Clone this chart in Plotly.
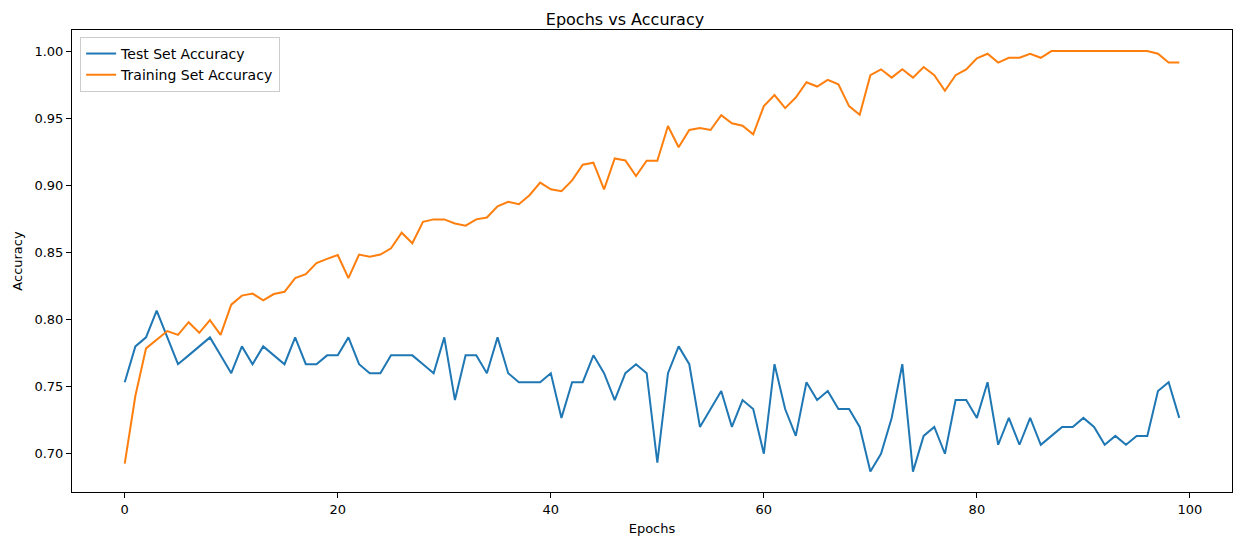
import plotly.graph_objects as go

# accuracy per epoch
epochs = list(range(100))

test_acc = [
    0.7533, 0.7800, 0.7867, 0.8067, 0.7867, 0.7667, 0.7733, 0.7800, 0.7867, 0.7733,
    0.7600, 0.7800, 0.7667, 0.7800, 0.7733, 0.7667, 0.7867, 0.7667, 0.7667, 0.7733,
    0.7733, 0.7867, 0.7667, 0.7600, 0.7600, 0.7733, 0.7733, 0.7733, 0.7667, 0.7600,
    0.7867, 0.7400, 0.7733, 0.7733, 0.7600, 0.7867, 0.7600, 0.7533, 0.7533, 0.7533,
    0.7600, 0.7267, 0.7533, 0.7533, 0.7733, 0.7600, 0.7400, 0.7600, 0.7667, 0.7600,
    0.6933, 0.7600, 0.7800, 0.7667, 0.7200, 0.7333, 0.7467, 0.7200, 0.7400, 0.7333,
    0.7000, 0.7667, 0.7333, 0.7133, 0.7533, 0.7400, 0.7467, 0.7333, 0.7333, 0.7200,
    0.6867, 0.7000, 0.7267, 0.7667, 0.6867, 0.7133, 0.7200, 0.7000, 0.7400, 0.7400,
    0.7267, 0.7533, 0.7067, 0.7267, 0.7067, 0.7267, 0.7067, 0.7133, 0.7200, 0.7200,
    0.7267, 0.7200, 0.7067, 0.7133, 0.7067, 0.7133, 0.7133, 0.7467, 0.7533, 0.7267,
]

train_acc = [
    0.6926, 0.7432, 0.7785, 0.7852, 0.7914, 0.7886, 0.7980, 0.7901, 0.7995, 0.7886,
    0.8111, 0.8178, 0.8193, 0.8143, 0.8190, 0.8207, 0.8309, 0.8338, 0.8420, 0.8452,
    0.8481, 0.8309, 0.8484, 0.8467, 0.8484, 0.8531, 0.8647, 0.8568, 0.8728, 0.8746,
    0.8746, 0.8716, 0.8699, 0.8746, 0.8760, 0.8844, 0.8877, 0.8859, 0.8926, 0.9020,
    0.8970, 0.8956, 0.9037, 0.9153, 0.9168, 0.8970, 0.9200, 0.9185, 0.9069, 0.9183,
    0.9183, 0.9442, 0.9284, 0.9412, 0.9427, 0.9412, 0.9523, 0.9462, 0.9444, 0.9380,
    0.9590, 0.9672, 0.9575, 0.9654, 0.9768, 0.9736, 0.9785, 0.9753, 0.9590, 0.9526,
    0.9820, 0.9864, 0.9802, 0.9864, 0.9802, 0.9881, 0.9820, 0.9704, 0.9820, 0.9864,
    0.9946, 0.9980, 0.9914, 0.9950, 0.9950, 0.9980, 0.9950, 1.0000, 1.0000, 1.0000,
    1.0000, 1.0000, 1.0000, 1.0000, 1.0000, 1.0000, 1.0000, 0.9980, 0.9914, 0.9914,
]

y_ticks = [0.70, 0.75, 0.80, 0.85, 0.90, 0.95, 1.00]
x_ticks = [0, 20, 40, 60, 80, 100]

fig = go.Figure()
fig.add_trace(go.Scatter(x=epochs, y=test_acc, mode='lines', name='Test Set Accuracy',
                         line=dict(color='#1f77b4', width=2)))
fig.add_trace(go.Scatter(x=epochs, y=train_acc, mode='lines', name='Training Set Accuracy',
                         line=dict(color='#ff7f0e', width=2)))

axis_style = dict(showline=True, mirror=True, linecolor='black', linewidth=1,
                  showgrid=False, zeroline=False, ticks='outside', ticklen=5,
                  tickcolor='black', tickfont=dict(size=13, color='black'))

fig.update_xaxes(range=[-4.95, 103.95], tickvals=x_ticks,
                 title=dict(text='Epochs', font=dict(size=13, color='black'), standoff=8),
                 **axis_style)
fig.update_yaxes(range=[0.6715, 1.0157], tickvals=y_ticks, tickformat='.2f',
                 title=dict(text='Accuracy', font=dict(size=13, color='black'), standoff=8),
                 **axis_style)

# page body keeps its 8px margin, so the figure is sized to sit inside the window
fig.update_layout(
    width=1234, height=537,
    font=dict(family='DejaVu Sans', size=13, color='black'),
    title=dict(text='Epochs vs Accuracy', x=0.5, xanchor='center',
               y=1 - 11 / 537, yanchor='middle', font=dict(size=16)),
    plot_bgcolor='white', paper_bgcolor='white',
    margin=dict(l=62, r=9, t=22, b=53),
    legend=dict(x=0.007, y=0.985, xanchor='left', yanchor='top',
                bgcolor='rgba(255,255,255,0.8)', bordercolor='#cccccc', borderwidth=1,
                font=dict(size=14), tracegroupgap=0, itemwidth=30),
    showlegend=True,
)

fig.write_html("out.html")
